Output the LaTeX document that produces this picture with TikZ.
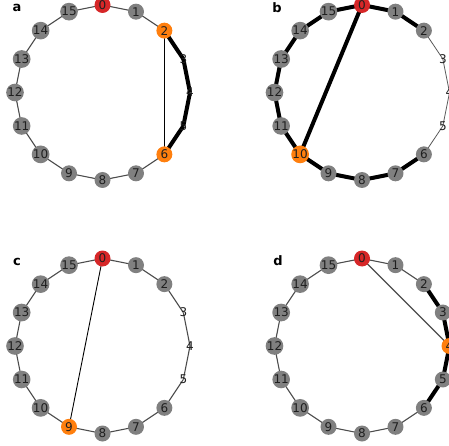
\documentclass[tikz,border=0pt]{standalone}
\usepackage{fontspec}
\setmainfont{DejaVu Sans}
\definecolor{nred}{HTML}{D62728}
\definecolor{norange}{HTML}{FF7F0E}
\definecolor{ngray}{HTML}{808080}
\pgfdeclarelayer{edges}
\pgfsetlayers{edges,main}
\begin{document}
\begin{tikzpicture}[x=1pt,y=1pt,
  vtx/.style={circle,inner sep=0pt,minimum size=16pt,
    font=\fontsize{12}{12}\selectfont,text=black!88},
  ringedge/.style={draw=black!70,line width=1.1pt},
  lightedge/.style={draw=black!65,line width=0.8pt},
  boldedge/.style={draw=black,line width=4pt},
  chord/.style={draw=black,line width=0.9pt},
  graychord/.style={draw=black!70,line width=1.1pt},
  panel/.style={font=\fontsize{13}{13}\selectfont\bfseries}]
\useasboundingbox (0,-446) rectangle (449,0);
\clip (0,-446) rectangle (449,0);

% ---- panel a ----
\node[panel] (la) at (17,-8) {a};
\foreach \k/\c in {0/nred,1/ngray,2/norange,3/none,4/none,5/none,6/norange,7/ngray,
                   8/ngray,9/ngray,10/ngray,11/ngray,12/ngray,13/ngray,14/ngray,15/ngray}
  \node[vtx,fill=\c] (a\k) at ({102.5+87.5*sin(22.5*\k)},{-92.5+87.5*cos(22.5*\k)}) {\k};
\begin{pgfonlayer}{edges}
  \foreach \i/\j in {6/7,7/8,8/9,9/10,10/11,11/12,12/13,13/14,14/15,15/0,0/1,1/2}
    \draw[ringedge] (a\i.center) -- (a\j.center);
  \foreach \i/\j in {2/3,3/4,4/5,5/6}
    \draw[boldedge] (a\i.center) -- (a\j.center);
  \draw[chord] (a2.center) -- (a6.center);
\end{pgfonlayer}

% ---- panel b ----
\node[panel] (lb) at (277,-8) {b};
\foreach \k/\c in {0/nred,1/ngray,2/ngray,3/none,4/none,5/none,6/ngray,7/ngray,
                   8/ngray,9/ngray,10/norange,11/ngray,12/ngray,13/ngray,14/ngray,15/ngray}
  \node[vtx,fill=\c] (b\k) at ({362+87.5*sin(22.5*\k)},{-92.5+87.5*cos(22.5*\k)}) {\k};
\begin{pgfonlayer}{edges}
  \foreach \i/\j in {2/3,3/4,4/5,5/6}
    \draw[lightedge] (b\i.center) -- (b\j.center);
  \foreach \i/\j in {6/7,7/8,8/9,9/10,10/11,11/12,12/13,13/14,14/15,15/0,0/1,1/2}
    \draw[boldedge] (b\i.center) -- (b\j.center);
  \draw[boldedge] (b0.center) -- (b10.center);
\end{pgfonlayer}

% ---- panel c ----
\node[panel] (lc) at (17,-262) {c};
\foreach \k/\c in {0/nred,1/ngray,2/ngray,3/none,4/none,5/none,6/ngray,7/ngray,
                   8/ngray,9/norange,10/ngray,11/ngray,12/ngray,13/ngray,14/ngray,15/ngray}
  \node[vtx,fill=\c] (c\k) at ({102.5+87.5*sin(22.5*\k)},{-346+87.5*cos(22.5*\k)}) {\k};
\begin{pgfonlayer}{edges}
  \foreach \i/\j in {0/1,1/2,2/3,3/4,4/5,5/6,6/7,7/8,8/9,9/10,10/11,11/12,12/13,13/14,14/15,15/0}
    \draw[ringedge] (c\i.center) -- (c\j.center);
  \draw[chord] (c0.center) -- (c9.center);
\end{pgfonlayer}

% ---- panel d ----
\node[panel] (ld) at (278,-261) {d};
\foreach \k/\c in {0/nred,1/ngray,2/ngray,3/ngray,4/norange,5/ngray,6/ngray,7/ngray,
                   8/ngray,9/ngray,10/ngray,11/ngray,12/ngray,13/ngray,14/ngray,15/ngray}
  \node[vtx,fill=\c] (d\k) at ({362+87.5*sin(22.5*\k)},{-346+87.5*cos(22.5*\k)}) {\k};
\begin{pgfonlayer}{edges}
  \foreach \i/\j in {6/7,7/8,8/9,9/10,10/11,11/12,12/13,13/14,14/15,15/0,0/1,1/2}
    \draw[ringedge] (d\i.center) -- (d\j.center);
  \foreach \i/\j in {2/3,3/4,4/5,5/6}
    \draw[boldedge] (d\i.center) -- (d\j.center);
  \draw[graychord] (d0.center) -- (d4.center);
\end{pgfonlayer}
\end{tikzpicture}
\end{document}
